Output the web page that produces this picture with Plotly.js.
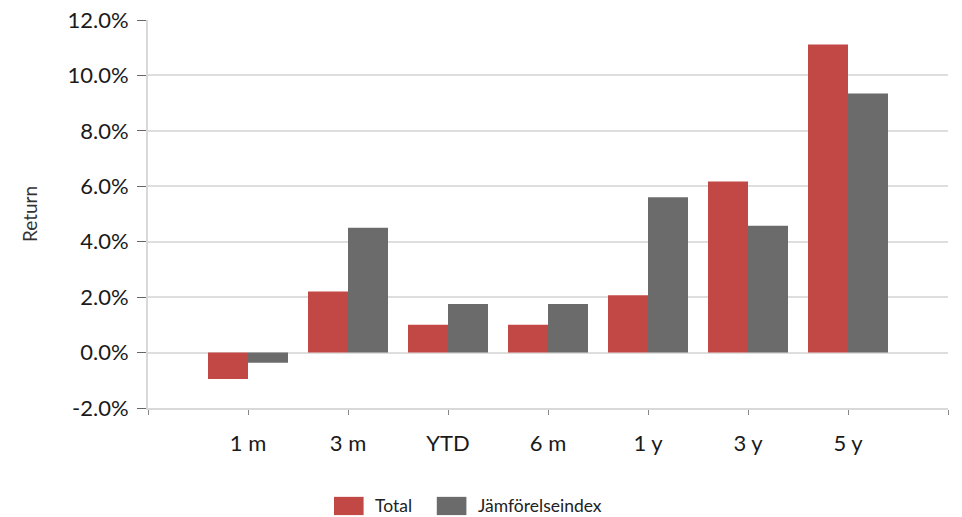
<!DOCTYPE html>
<html>
<head>
<meta charset="utf-8">
<script src="https://cdn.plot.ly/plotly-3.0.1.min.js"></script>
<style>html,body{margin:0;padding:0;background:#fff;}#chart{width:962px;height:517px;}</style>
</head>
<body>
<div id="chart"></div>
<script>
var categories = ['1 m', '3 m', 'YTD', '6 m', '1 y', '3 y', '5 y'];
var seriesNames = ['Total', 'Jämförelseindex'];
var totalValues = [-0.95, 2.2, 1.0, 1.0, 2.07, 6.17, 11.12];
var indexValues = [-0.37, 4.5, 1.75, 1.75, 5.6, 4.58, 9.35];
var yTickValues = [-2, 0, 2, 4, 6, 8, 10, 12];
var yAxisTitle = 'Return';

var colors = ['#c24845', '#6b6b6b'];
var padLeft = ' ', padRight = '  ';
var catArray = [padLeft].concat(categories).concat([padRight]);

var traces = [
  {type: 'bar', name: seriesNames[0], x: categories, y: totalValues, marker: {color: colors[0]}},
  {type: 'bar', name: seriesNames[1], x: categories, y: indexValues, marker: {color: colors[1]}}
];

var font = 'Lato, "Open Sans", sans-serif';

// custom legend (rectangles + labels)
var legendX = [0.2325, 0.361];
var shapes = [], annotations = [];
for (var i = 0; i < seriesNames.length; i++) {
  shapes.push({type: 'rect', xref: 'paper', yref: 'paper',
    x0: legendX[i], x1: legendX[i] + 0.037, y0: -0.276, y1: -0.229,
    fillcolor: colors[i], line: {width: 0}});
  annotations.push({xref: 'paper', yref: 'paper', x: legendX[i] + 0.049, y: -0.2525,
    xanchor: 'left', yanchor: 'middle', showarrow: false, text: seriesNames[i],
    font: {family: font, size: 17.5, color: '#222'}});
}

var layout = {
  width: 962, height: 517,
  margin: {l: 148, r: 14, t: 20, b: 109},
  paper_bgcolor: '#fff', plot_bgcolor: '#fff',
  barmode: 'group', bargap: 0.2, bargroupgap: 0,
  showlegend: false,
  font: {family: font, color: '#1a1a1a'},
  xaxis: {
    type: 'category', categoryorder: 'array', categoryarray: catArray,
    range: [0, 8], showgrid: false, zeroline: false,
    showline: true, linecolor: '#d9d9d9', linewidth: 2,
    ticks: 'outside', ticklen: 5, tickcolor: '#888', tickwidth: 1,
    tickfont: {family: font, size: 22, color: '#1a1a1a'},
    ticklabelstandoff: 10, fixedrange: true
  },
  yaxis: {
    range: [-2, 12], tickmode: 'array', tickvals: yTickValues,
    ticktext: yTickValues.map(function (v) { return v.toFixed(1) + '%'; }),
    showgrid: true, gridcolor: '#dedede', gridwidth: 2,
    zeroline: true, zerolinecolor: '#dedede', zerolinewidth: 2,
    showline: true, linecolor: '#d9d9d9', linewidth: 2,
    ticks: 'outside', ticklen: 9, tickcolor: '#666', tickwidth: 1,
    tickfont: {family: font, size: 22, color: '#1a1a1a'},
    ticklabelstandoff: 4,
    title: {text: yAxisTitle, font: {family: font, size: 19, color: '#333'}, standoff: 25},
    fixedrange: true
  },
  shapes: shapes,
  annotations: annotations
};

Plotly.newPlot('chart', traces, layout, {displayModeBar: false, staticPlot: true});
</script>
</body>
</html>
